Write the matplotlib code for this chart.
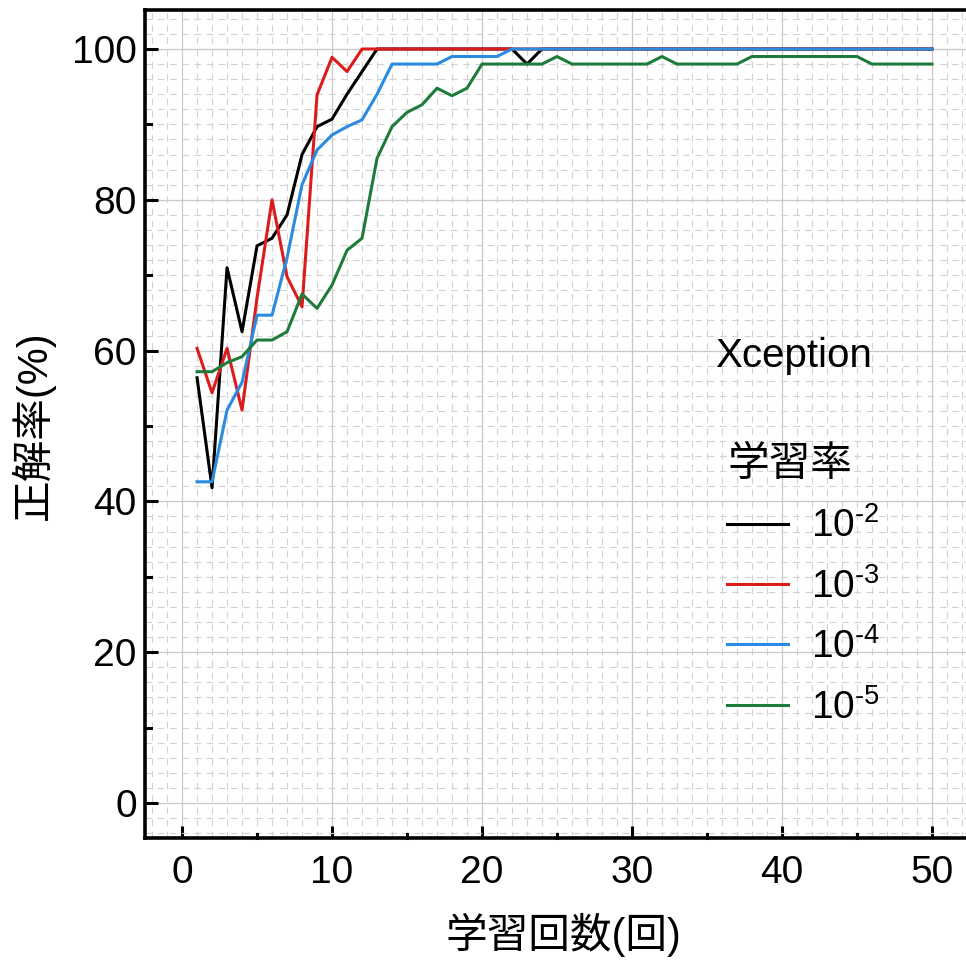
import numpy as np
import matplotlib
matplotlib.use('Agg')
import matplotlib.pyplot as plt
from matplotlib.ticker import MultipleLocator

# フォント設定（数字はArial系、日本語はNoto CJK）
plt.rcParams['font.family'] = ['Liberation Sans', 'Noto Sans CJK JP']
plt.rcParams['mathtext.fontset'] = 'custom'
plt.rcParams['mathtext.rm'] = 'Liberation Sans'

# >>>データ（学習回数ごとの正解率）
epochs = list(range(1, 51))
acc1e2 = [56.4, 41.8, 71.0, 62.5, 73.9, 74.9, 78.0, 86.0, 89.7, 90.7,
          94.0, 97.0, 100, 100, 100, 100, 100, 100, 100, 100,
          100, 100, 98.0, 100, 100, 100, 100, 100, 100, 100,
          100, 100, 100, 100, 100, 100, 100, 100, 100, 100,
          100, 100, 100, 100, 100, 100, 100, 100, 100, 100]
acc1e3 = [60.3, 54.4, 60.3, 52.1, 67.0, 80.0, 69.8, 65.8, 93.9, 98.9,
          97.0, 100, 100, 100, 100, 100, 100, 100, 100, 100,
          100, 100, 100, 100, 100, 100, 100, 100, 100, 100,
          100, 100, 100, 100, 100, 100, 100, 100, 100, 100,
          100, 100, 100, 100, 100, 100, 100, 100, 100, 100]
acc1e4 = [42.6, 42.6, 52.1, 55.8, 64.7, 64.7, 72.3, 82.0, 86.6, 88.6,
          89.7, 90.6, 94.0, 98.0, 98.0, 98.0, 98.0, 99.0, 99.0, 99.0,
          99.0, 100, 100, 100, 100, 100, 100, 100, 100, 100,
          100, 100, 100, 100, 100, 100, 100, 100, 100, 100,
          100, 100, 100, 100, 100, 100, 100, 100, 100, 100]
acc1e5 = [57.2, 57.2, 58.4, 59.2, 61.4, 61.4, 62.5, 67.5, 65.6, 68.7,
          73.3, 74.9, 85.5, 89.7, 91.6, 92.6, 94.8, 93.8, 94.8, 98.0,
          98.0, 98.0, 98.0, 98.0, 99.0, 98.0, 98.0, 98.0, 98.0, 98.0,
          98.0, 99.0, 98.0, 98.0, 98.0, 98.0, 98.0, 99.0, 99.0, 99.0,
          99.0, 99.0, 99.0, 99.0, 99.0, 98.0, 98.0, 98.0, 98.0, 98.0]
lrLabels = [r'$\mathregular{10^{\text{-}2}}$', r'$\mathregular{10^{\text{-}3}}$',
            r'$\mathregular{10^{\text{-}4}}$', r'$\mathregular{10^{\text{-}5}}$']
lineColors = ['black', '#dc1c1c', '#2a8be0', '#1e7b3c']

fig = plt.figure(figsize=(9.66, 9.61), dpi=100)
ax = fig.add_axes([145/966, 1-838/961, 1-145/966, (838-10)/961])

for acc, lab, col in zip([acc1e2, acc1e3, acc1e4, acc1e5], lrLabels, lineColors):
    ax.plot(epochs, acc, color=col, lw=2.2, label=lab)

ax.set_xlim(-2.47, 52.27)
ax.set_ylim(-4.64, 105.17)

# 目盛り
ax.xaxis.set_major_locator(MultipleLocator(10))
ax.xaxis.set_minor_locator(MultipleLocator(1))
ax.yaxis.set_major_locator(MultipleLocator(20))
ax.yaxis.set_minor_locator(MultipleLocator(2))
ax.tick_params(axis='both', which='major', direction='in', width=2.2, labelsize=28)
ax.tick_params(axis='x', which='major', length=9, pad=12)
ax.tick_params(axis='y', which='major', length=9, pad=6)
ax.tick_params(axis='both', which='minor', length=0)
for v in range(5, 51, 10):   # x軸の小目盛り（5, 15, ...）
    ax.plot([v, v], [-4.64, -4.1], color='black', lw=2.2, clip_on=False)
for v in range(10, 101, 20):  # y軸の小目盛り（10, 30, ...）
    ax.plot([-2.47, -2.05], [v, v], color='black', lw=2.2, clip_on=False)

# 格子線
ax.grid(which='major', color='#c8c8c8', lw=0.9, ls='-')
ax.grid(which='minor', color='#d2d2d2', lw=0.8, ls=(0, (6, 5)))
ax.set_axisbelow(True)

for s in ['left', 'bottom', 'top']:
    ax.spines[s].set_linewidth(2.6)
ax.spines['right'].set_visible(False)

fig.text(33/966, 1-425/961, '正解率(%)', rotation=90, ha='center', va='center', fontsize=30)
fig.text(563/966, 1-935/961, '学習回数(回)', ha='center', va='center', fontsize=30)
fig.text(715/966, 1-367/961, 'Xception', ha='left', va='baseline', fontsize=29)

ax.legend(title='学習率', loc='upper left', bbox_to_anchor=(727/966, 1-445/961),
          bbox_transform=fig.transFigure, frameon=False, fontsize=28, title_fontsize=30,
          handlelength=1.57, handletextpad=0.6, labelspacing=0.58, borderpad=0,
          borderaxespad=0, alignment='left')

plt.savefig('out.png', dpi=100)
plt.close()
